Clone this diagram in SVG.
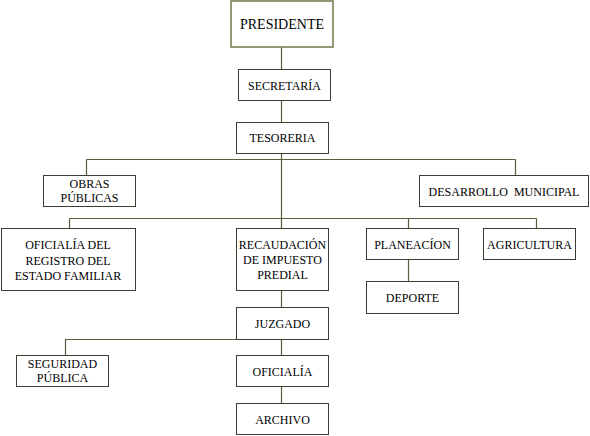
<svg xmlns="http://www.w3.org/2000/svg" width="590" height="436" viewBox="0 0 590 436">
<style>
.box{fill:#ffffff;stroke:#3d3d30;stroke-width:1}
.top{fill:#ffffff;stroke:#7d7d55;stroke-width:1.6}
text{font-family:'Liberation Serif','DejaVu Serif',serif;fill:#000;text-anchor:middle}
.t{font-size:12px}
.tb{font-size:14px}
.c{fill:none;stroke:#5c5c3d;stroke-width:1.2}
</style>
<rect width="590" height="436" fill="#ffffff"/>
<g id="connectors">
<path class="c" d="M281.5 47V69M281.5 100V122M281.5 153V229"/>
<path class="c" d="M86.5 159.5H515.5M86.5 159.5V175M515.5 159.5V175"/>
<path class="c" d="M69.5 218.5H536.5M69.5 218.5V229M408.5 218.5V229M536.5 218.5V229"/>
<path class="c" d="M408.5 259V282"/>
<path class="c" d="M281.5 291V307M281.5 339V355M281.5 387V403"/>
<path class="c" d="M236 339.5H65.5V355"/>
</g>
<g id="presidente"><rect class="top" x="231" y="1" width="102" height="46"/><text class="tb" x="282" y="29" font-family="Liberation Serif, serif">PRESIDENTE</text></g>
<g id="secretaria"><rect class="box" x="238.5" y="69.5" width="92" height="31"/><text class="t" x="284.5" y="90">SECRETARÍA</text></g>
<g id="tesoreria"><rect class="box" x="236.5" y="122.5" width="92" height="31"/><text class="t" x="282.5" y="142">TESORERIA</text></g>
<g id="obras"><rect class="box" x="43.5" y="175.5" width="92" height="31"/><text class="t" x="89.5" y="188">OBRAS</text><text class="t" x="89.5" y="202">PÚBLICAS</text></g>
<g id="desarrollo"><rect class="box" x="419.5" y="175.5" width="169" height="31"/><text class="t" x="504" y="196" xml:space="preserve">DESARROLLO  MUNICIPAL</text></g>
<g id="oficialia-registro"><rect class="box" x="1.5" y="228.5" width="134" height="62"/><text class="t" x="68" y="249">OFICIALÍA DEL</text><text class="t" x="68" y="265">REGISTRO DEL</text><text class="t" x="68" y="280">ESTADO FAMILIAR</text></g>
<g id="recaudacion"><rect class="box" x="236.5" y="228.5" width="92" height="62"/><text class="t" x="282.5" y="249">RECAUDACIÓN</text><text class="t" x="282.5" y="264">DE IMPUESTO</text><text class="t" x="282.5" y="279">PREDIAL</text></g>
<g id="planeacion"><rect class="box" x="366.5" y="228.5" width="92" height="31"/><text class="t" x="412.5" y="249">PLANEACÍON</text></g>
<g id="agricultura"><rect class="box" x="483.5" y="228.5" width="92" height="31"/><text class="t" x="529.5" y="249">AGRICULTURA</text></g>
<g id="deporte"><rect class="box" x="366.5" y="281.5" width="92" height="32"/><text class="t" x="412.5" y="302">DEPORTE</text></g>
<g id="juzgado"><rect class="box" x="236.5" y="307.5" width="92" height="32"/><text class="t" x="282.5" y="328">JUZGADO</text></g>
<g id="seguridad"><rect class="box" x="16.5" y="355.5" width="92" height="31"/><text class="t" x="62.5" y="368">SEGURIDAD</text><text class="t" x="62.5" y="382">PÚBLICA</text></g>
<g id="oficialia"><rect class="box" x="236.5" y="355.5" width="92" height="31"/><text class="t" x="282.5" y="376">OFICIALÍA</text></g>
<g id="archivo"><rect class="box" x="236.5" y="403.5" width="92" height="31"/><text class="t" x="282.5" y="424">ARCHIVO</text></g>
</svg>
